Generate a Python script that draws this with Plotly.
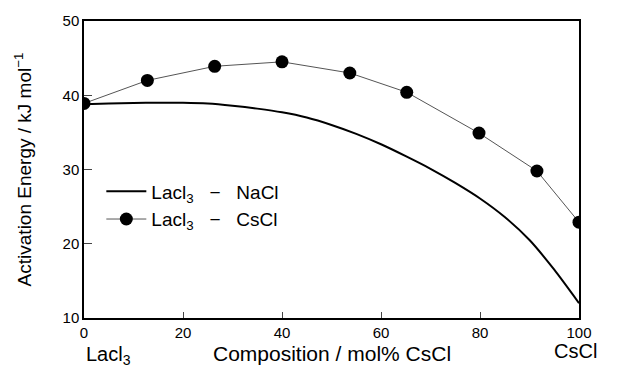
import plotly.graph_objects as go

# NaCl system (smooth curve, read at 5 mol% steps)
nacl_x = [0, 5, 10, 15, 20, 25, 30, 35, 40, 45, 50, 55, 60, 65, 70, 75, 80, 85, 90, 95, 100]
nacl_y = [38.8, 38.9, 38.95, 39.0, 39.0, 38.9, 38.6, 38.2, 37.7, 37.0, 36.0, 34.8,
          33.4, 31.8, 30.1, 28.2, 26.1, 23.6, 20.5, 16.5, 12.0]

# CsCl system (measured points)
cscl_x = [0, 12.8, 26.4, 40, 53.7, 65.2, 79.8, 91.5, 100]
cscl_y = [38.9, 42.0, 43.9, 44.5, 43.0, 40.4, 34.9, 29.8, 22.9]

x_ticks = [0, 20, 40, 60, 80, 100]
y_ticks = [10, 20, 30, 40, 50]

FONT = "Arial, Liberation Sans, sans-serif"
SEP = "&nbsp;&nbsp;&nbsp;−&nbsp;&nbsp;&nbsp;"

fig = go.Figure()
fig.add_trace(go.Scatter(
    x=nacl_x, y=nacl_y, mode="lines",
    line=dict(color="black", width=2, shape="spline", smoothing=0.6),
    name="Lacl<sub>3</sub>" + SEP + "NaCl"))
fig.add_trace(go.Scatter(
    x=cscl_x, y=cscl_y, mode="lines+markers",
    line=dict(color="#555555", width=1),
    marker=dict(color="black", size=13),
    name="Lacl<sub>3</sub>" + SEP + "CsCl"))

fig.update_layout(
    width=629, height=370,
    margin=dict(l=84, r=50, t=14, b=52),
    paper_bgcolor="white", plot_bgcolor="white",
    font=dict(family=FONT, color="black", size=15),
    showlegend=True,
    legend=dict(x=0.035, y=0.49, xanchor="left", yanchor="top",
                bgcolor="rgba(0,0,0,0)", font=dict(size=19, family=FONT),
                itemwidth=40, tracegroupgap=0),
    xaxis=dict(range=[0, 100], tickvals=x_ticks, ticks="inside", ticklen=6,
               showline=True, linecolor="black", linewidth=1.5, mirror=True,
               showgrid=False, zeroline=False, tickfont=dict(size=15)),
    yaxis=dict(range=[10, 50], tickvals=y_ticks, ticks="inside", ticklen=8,
               showline=True, linecolor="black", linewidth=1.5, mirror=True,
               showgrid=False, zeroline=False, tickfont=dict(size=15),
               title=dict(text="Activation Energy / kJ mol<sup>−1</sup>",
                          font=dict(size=19), standoff=26)),
)

fig.add_annotation(text="Composition / mol% CsCl", xref="paper", yref="paper",
                   x=0.5, y=0, yshift=-35, xanchor="center", yanchor="middle",
                   showarrow=False, font=dict(size=21))
fig.add_annotation(text="Lacl<sub>3</sub>", xref="paper", yref="paper",
                   x=0, y=0, yshift=-37, xanchor="left", yanchor="middle",
                   showarrow=False, font=dict(size=20))
fig.add_annotation(text="CsCl", xref="paper", yref="paper",
                   x=1, y=0, xshift=20, yshift=-33, xanchor="right", yanchor="middle",
                   showarrow=False, font=dict(size=20))

fig.write_html("out.html")
